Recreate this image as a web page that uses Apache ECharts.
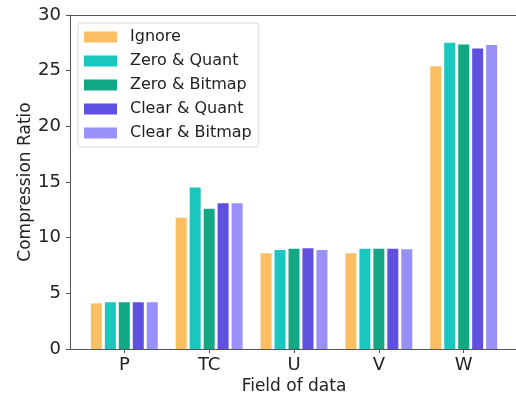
<!DOCTYPE html>
<html>
<head>
<meta charset="utf-8">
<script src="https://cdn.jsdelivr.net/npm/echarts@6/dist/echarts.min.js"></script>
<style>
html, body { margin: 0; padding: 0; background: #fff; }
#ct1 { width: 516px; height: 397px; }
</style>
</head>
<body>
<div id="ct1"></div>
<script>
var fields = ['P', 'TC', 'U', 'V', 'W'];
var seriesNames = ['Ignore', 'Zero & Quant', 'Zero & Bitmap', 'Clear & Quant', 'Clear & Bitmap'];
var ignoreVals = [4.1, 11.8, 8.6, 8.6, 25.4];
var zeroQuantVals = [4.2, 14.5, 8.9, 9.0, 27.5];
var zeroBitmapVals = [4.2, 12.6, 9.0, 9.0, 27.35];
var clearQuantVals = [4.2, 13.1, 9.05, 9.0, 27.0];
var clearBitmapVals = [4.2, 13.1, 8.9, 8.95, 27.3];
var yTicks = [0, 5, 10, 15, 20, 25, 30];
var colors = ['#FBBF63', '#19C7BF', '#12A883', '#5F50E0', '#9991F9'];

var allVals = [ignoreVals, zeroQuantVals, zeroBitmapVals, clearQuantVals, clearBitmapVals];
var fontName = 'DejaVu Sans';
var spine = { show: true, onZero: false, lineStyle: { color: '#555', width: 1 } };

var series = [];
for (var s = 0; s < seriesNames.length; s++) {
	series.push({
		name: seriesNames[s],
		type: 'bar',
		barWidth: 11,
		barGap: '27%',
		itemStyle: { color: colors[s] },
		data: allVals[s].map(function (v, i) { return [i, v]; })
	});
}

var option1 = {
	animation: false,
	textStyle: { fontFamily: fontName },
	grid: {
		left: 70, top: 15, right: -2, bottom: 48,
		outerBoundsMode: 'none',
		containLabel: false
	},
	legend: {
		orient: 'vertical',
		left: 78, top: 23,
		padding: [6, 7, 6, 6],
		borderColor: '#d8d8d8', borderWidth: 1, borderRadius: 3,
		backgroundColor: 'rgba(255,255,255,0.8)',
		itemWidth: 33, itemHeight: 11, itemGap: 8,
		icon: 'rect',
		textStyle: { fontSize: 16, color: '#222', fontFamily: fontName, padding: [0, 0, 0, 8] },
		data: seriesNames
	},
	xAxis: [{
		type: 'value',
		min: -0.64, max: 4.64,
		name: 'Field of data',
		nameLocation: 'middle',
		nameGap: 29,
		nameMoveOverlap: false,
		nameTextStyle: { fontSize: 17, color: '#222', fontFamily: fontName },
		axisLine: spine,
		splitLine: { show: false },
		axisTick: { show: true, length: 4, lineStyle: { color: '#555' }, customValues: [0, 1, 2, 3, 4] },
		axisLabel: {
			customValues: [0, 1, 2, 3, 4],
			fontSize: 18, color: '#222', margin: 7, fontFamily: fontName,
			formatter: function (v) { return fields[Math.round(v)]; }
		}
	}, {
		type: 'value',
		position: 'top',
		min: -0.64, max: 4.64,
		axisLine: spine,
		splitLine: { show: false },
		axisTick: { show: false },
		axisLabel: { show: false }
	}],
	yAxis: {
		type: 'value',
		min: yTicks[0], max: yTicks[yTicks.length - 1], interval: 5,
		name: 'Compression Ratio',
		nameLocation: 'middle',
		nameGap: 36,
		nameMoveOverlap: false,
		nameTextStyle: { fontSize: 17, color: '#222', fontFamily: fontName },
		axisLine: spine,
		splitLine: { show: false },
		axisTick: { show: true, length: 4, lineStyle: { color: '#555' } },
		axisLabel: { fontSize: 18, color: '#222', margin: 9, fontFamily: fontName }
	},
	series: series
};

var myChart1 = echarts.init(document.getElementById('ct1'));
myChart1.setOption(option1, true);
</script>
</body>
</html>
